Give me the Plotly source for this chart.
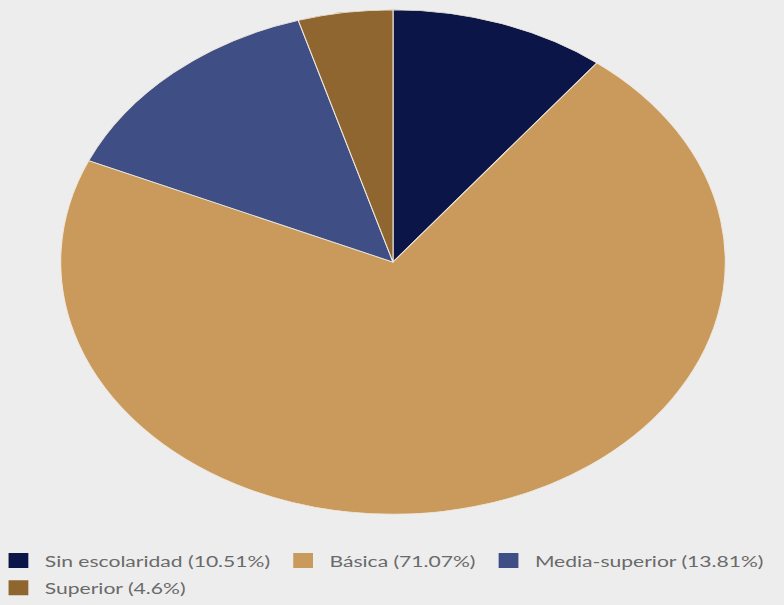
import plotly.graph_objects as go

labels = ["Sin escolaridad (10.51%)", "Básica (71.07%)", "Media-superior (13.81%)", "Superior (4.6%)"]
values = [10.51, 71.07, 13.81, 4.6]
colors = ["#0b1547", "#c99a5b", "#3f4f86", "#8f6530"]
legend_rows = ["legend", "legend", "legend", "legend2"]

W, H = 784, 605
CX, CY, R = 393, 266, 256     # pie domain centre / half-size in px
SX = 336 / 255                # horizontal stretch of the reference image

fig = go.Figure()
fig.add_trace(go.Pie(
    labels=labels, values=values, sort=False, direction="clockwise", rotation=0,
    marker=dict(colors=colors, line=dict(color="#efe8dc", width=0.8)),
    textinfo="none", hoverinfo="label", showlegend=False,
    domain=dict(x=[(CX - R) / W, (CX + R) / W], y=[(H - CY - R) / H, (H - CY + R) / H]),
))
# legend entries (same labels/colours as the slices), split over two rows like the reference
for lab, col, lg in zip(labels, colors, legend_rows):
    fig.add_trace(go.Scatter(
        x=[None], y=[None], mode="markers", name=lab, legend=lg,
        marker=dict(symbol="square", size=15, color=col), hoverinfo="skip",
    ))

legend_font = dict(family="Lato", size=16, color="#6a6a6a")
fig.update_layout(
    width=W, height=H,
    margin=dict(l=0, r=0, t=0, b=0),
    paper_bgcolor="#ededed", plot_bgcolor="rgba(0,0,0,0)",
    xaxis=dict(visible=False), yaxis=dict(visible=False),
    showlegend=True,
    legend=dict(orientation="h", x=0, y=0.088, xanchor="left", yanchor="top",
                font=legend_font, itemsizing="trace", bgcolor="rgba(0,0,0,0)"),
    legend2=dict(orientation="h", x=0, y=0.042, xanchor="left", yanchor="top",
                 font=legend_font, itemsizing="trace", bgcolor="rgba(0,0,0,0)"),
)

post = """
document.body.style.margin = '0';
var gd = document.getElementById('{plot_id}');
var SX = %f;
function stretchAll() {
  var g = gd.querySelector('.pielayer');
  if (g) g.setAttribute('transform', 'translate(%d,0) scale(' + SX + ',1) translate(%d,0)');
  gd.querySelectorAll('g.legend, g.legend2').forEach(function (lg) {
    var t = lg.getAttribute('transform') || '';
    if (t.indexOf('scale') < 0) lg.setAttribute('transform', 'scale(' + SX + ',1) translate(-6,0) ' + t);
  });
}
stretchAll();
gd.on('plotly_afterplot', stretchAll);
""" % (SX, CX, -CX)

fig.write_html("out.html", post_script=post, config={"displayModeBar": False})
